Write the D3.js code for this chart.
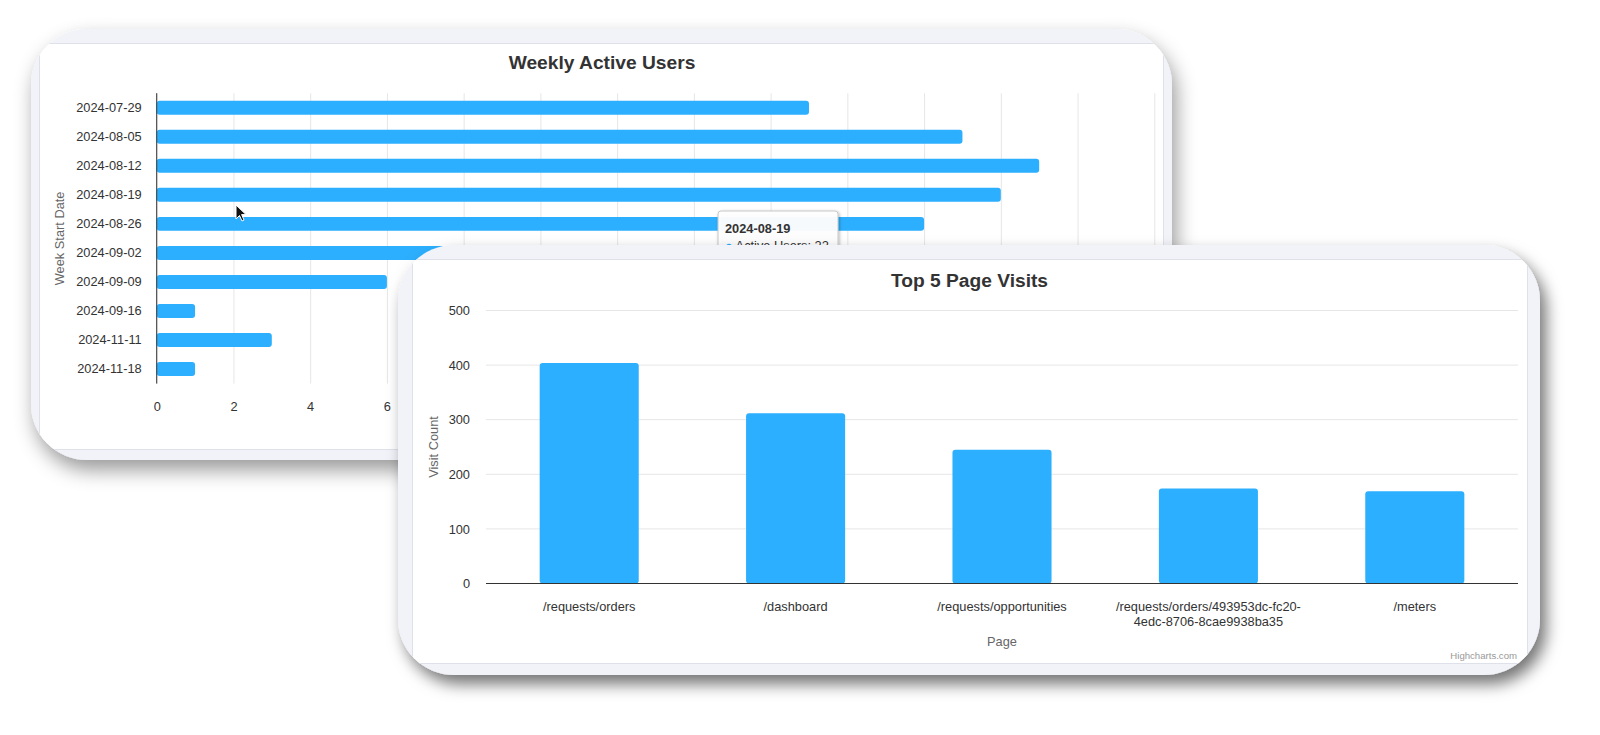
<!DOCTYPE html>
<html>
<head>
<meta charset="utf-8">
<script src="https://cdn.jsdelivr.net/npm/d3@7"></script>
<style>
    html, body { margin: 0; padding: 0; background: #fff; }
    svg { display: block; font-family: "Liberation Sans", Helvetica, Arial, sans-serif; }
</style>
</head>
<body>
<svg id="chart" width="1600" height="735"></svg>
<script>
"use strict";

// weekly active users (bar chart, top card)
const weeks = ["2024-07-29", "2024-08-05", "2024-08-12", "2024-08-19", "2024-08-26",
    "2024-09-02", "2024-09-09", "2024-09-16", "2024-11-11", "2024-11-18"];
const activeUsers = [17, 21, 23, 22, 20, 14, 6, 1, 3, 1];
const userTicks = [0, 2, 4, 6, 8, 10, 12, 14, 16, 18, 20, 22, 24, 26];

// top 5 page visits (column chart, bottom card)
const pages = ["/requests/orders", "/dashboard", "/requests/opportunities",
    "/requests/orders/493953dc-fc20-4edc-8706-8cae9938ba35", "/meters"];
const visits = [404, 312, 245, 174, 169];
const visitTicks = [0, 100, 200, 300, 400, 500];

const tooltipWeek = "2024-08-19";

const BLUE = "#2caffe",
    TEXT = "#333333",
    AXIS_TITLE = "#666666",
    GRID = "#e6e6e6";

const svg = d3.select("#chart");
const defs = svg.append("defs");

const shadow1 = defs.append("filter").attr("id", "shadow1")
    .attr("x", "-10%").attr("y", "-10%").attr("width", "120%").attr("height", "130%");
shadow1.append("feDropShadow")
    .attr("dx", 4).attr("dy", 10).attr("stdDeviation", 10)
    .attr("flood-color", "#000").attr("flood-opacity", 0.4);

const shadow2 = defs.append("filter").attr("id", "shadow2")
    .attr("x", "-10%").attr("y", "-10%").attr("width", "120%").attr("height", "130%");
shadow2.append("feDropShadow")
    .attr("dx", 6).attr("dy", 9).attr("stdDeviation", 8)
    .attr("flood-color", "#000").attr("flood-opacity", 0.55);

const tipShadow = defs.append("filter").attr("id", "tipShadow");
tipShadow.append("feDropShadow")
    .attr("dx", 1).attr("dy", 1).attr("stdDeviation", 1.5)
    .attr("flood-color", "#000").attr("flood-opacity", 0.3);

function card(id, outer, inner, filter) {
    defs.append("clipPath").attr("id", id)
        .append("rect")
        .attr("x", outer.x).attr("y", outer.y)
        .attr("width", outer.w).attr("height", outer.h)
        .attr("rx", 56);

    const g = svg.append("g");
    g.append("rect")
        .attr("x", outer.x).attr("y", outer.y)
        .attr("width", outer.w).attr("height", outer.h)
        .attr("rx", 56)
        .attr("fill", "#f2f3f9")
        .attr("filter", `url(#${filter})`);

    const body = g.append("g").attr("clip-path", `url(#${id})`);
    body.append("rect")
        .attr("x", inner.x).attr("y", inner.y)
        .attr("width", inner.w).attr("height", inner.h)
        .attr("fill", "#fff")
        .attr("stroke", "#dfe1ea");
    return body;
}

// ---------- top card: Weekly Active Users ----------
{
    const g = card("clip1",
        {x: 31, y: 29, w: 1141, h: 431},
        {x: 39.5, y: 43.5, w: 1124, h: 406}, "shadow1");

    const x = d3.scaleLinear().domain([0, 26]).range([156.7, 1154.3]);
    const y = d3.scaleBand().domain(weeks).range([93.2, 383.6]);

    g.append("g").selectAll("line")
        .data(userTicks)
        .join("line")
        .attr("x1", d => x(d) + 0.5).attr("x2", d => x(d) + 0.5)
        .attr("y1", y.range()[0]).attr("y2", y.range()[1])
        .attr("stroke", GRID);

    const bw = y.bandwidth() * 0.48;
    g.append("g").selectAll("rect")
        .data(weeks)
        .join("rect")
        .attr("x", x(0))
        .attr("y", d => y(d) + (y.bandwidth() - bw) / 2)
        .attr("width", (d, i) => x(activeUsers[i]) - x(0))
        .attr("height", bw)
        .attr("rx", 3)
        .attr("fill", BLUE);

    g.append("line")
        .attr("x1", x(0)).attr("x2", x(0))
        .attr("y1", y.range()[0]).attr("y2", y.range()[1])
        .attr("stroke", TEXT);

    const yAxis = g.append("g")
        .attr("transform", `translate(${x(0) - 15},0)`)
        .call(d3.axisLeft(y).tickSize(0).tickPadding(0));
    yAxis.select(".domain").remove();
    yAxis.selectAll("text")
        .attr("fill", TEXT).attr("font-size", 12.8)
        .attr("font-family", "Liberation Sans, Arial, sans-serif");

    const xAxis = g.append("g")
        .attr("transform", `translate(0,${y.range()[1] + 18})`)
        .call(d3.axisBottom(x).tickValues(userTicks).tickSize(0).tickPadding(0));
    xAxis.select(".domain").remove();
    xAxis.selectAll("text")
        .attr("fill", TEXT).attr("font-size", 12.8)
        .attr("font-family", "Liberation Sans, Arial, sans-serif");

    g.append("text")
        .attr("x", 602).attr("y", 69)
        .attr("text-anchor", "middle")
        .attr("font-size", 19.2).attr("font-weight", "bold")
        .attr("fill", TEXT)
        .text("Weekly Active Users");

    g.append("text")
        .attr("transform", `translate(64,${(y.range()[0] + y.range()[1]) / 2}) rotate(-90)`)
        .attr("text-anchor", "middle")
        .attr("font-size", 12.8)
        .attr("fill", AXIS_TITLE)
        .text("Week Start Date");

    // hover tooltip for the 2024-08-19 bar
    const ti = weeks.indexOf(tooltipWeek);
    const tip = g.append("g").attr("transform", "translate(718,211)");
    tip.append("rect")
        .attr("width", 120).attr("height", 60).attr("rx", 3)
        .attr("fill", "#fff").attr("fill-opacity", 0.95)
        .attr("stroke", "#c8c8c8")
        .attr("filter", "url(#tipShadow)");
    tip.append("text")
        .attr("x", 7).attr("y", 22)
        .attr("font-size", 12.8).attr("font-weight", "bold")
        .attr("fill", TEXT)
        .text(tooltipWeek);
    const line2 = tip.append("text")
        .attr("x", 7).attr("y", 39)
        .attr("font-size", 12.8)
        .attr("fill", TEXT);
    line2.append("tspan").attr("fill", BLUE).text("\u25CF ");
    line2.append("tspan").text(`Active Users: ${activeUsers[ti]}`);

    // mouse pointer
    g.append("path")
        .attr("transform", "translate(236,205)")
        .attr("d", "M0,0 L0,14 L3.5,10.5 L6,16 L8,15 L5.6,9.6 L10,9.6 Z")
        .attr("fill", "#111")
        .attr("stroke", "#fff")
        .attr("stroke-width", 1);
}

// ---------- bottom card: Top 5 Page Visits ----------
{
    const g = card("clip2",
        {x: 398, y: 245, w: 1142, h: 430},
        {x: 412.5, y: 259.5, w: 1115, h: 404}, "shadow2");

    const x = d3.scaleBand().domain(pages).range([486, 1518]);
    const y = d3.scaleLinear().domain([0, 500]).range([583.5, 310.5]);

    g.append("g").selectAll("line")
        .data(visitTicks.slice(1))
        .join("line")
        .attr("x1", x.range()[0]).attr("x2", x.range()[1])
        .attr("y1", d => y(d)).attr("y2", d => y(d))
        .attr("stroke", GRID);

    const bw = x.bandwidth() * 0.48;
    g.append("g").selectAll("rect")
        .data(pages)
        .join("rect")
        .attr("x", d => x(d) + (x.bandwidth() - bw) / 2)
        .attr("y", (d, i) => y(visits[i]))
        .attr("width", bw)
        .attr("height", (d, i) => y(0) - y(visits[i]))
        .attr("rx", 3)
        .attr("fill", BLUE);

    g.append("line")
        .attr("x1", x.range()[0]).attr("x2", x.range()[1])
        .attr("y1", y(0)).attr("y2", y(0))
        .attr("stroke", TEXT);

    const yAxis = g.append("g")
        .attr("transform", "translate(470,0)")
        .call(d3.axisLeft(y).tickValues(visitTicks).tickSize(0).tickPadding(0));
    yAxis.select(".domain").remove();
    yAxis.selectAll("text")
        .attr("fill", TEXT).attr("font-size", 12.8)
        .attr("font-family", "Liberation Sans, Arial, sans-serif");

    // category labels, wrapped at hyphens like Highcharts does
    const labels = g.append("g").attr("font-size", 12.8).attr("fill", TEXT)
        .attr("text-anchor", "middle");
    pages.forEach(p => {
        const t = labels.append("text")
            .attr("x", x(p) + x.bandwidth() / 2)
            .attr("y", 610.5);
        const parts = p.split(/(?<=-)/);
        let lines = [""];
        const probe = labels.append("text").attr("visibility", "hidden");
        parts.forEach(part => {
            const trial = lines[lines.length - 1] + part;
            probe.text(trial);
            if (probe.node().getComputedTextLength() > x.bandwidth() - 10 && lines[lines.length - 1]) {
                lines.push(part);
            } else {
                lines[lines.length - 1] = trial;
            }
        });
        probe.remove();
        lines.forEach((l, i) => {
            t.append("tspan")
                .attr("x", x(p) + x.bandwidth() / 2)
                .attr("dy", i === 0 ? 0 : 15.5)
                .text(l);
        });
    });

    g.append("text")
        .attr("x", (x.range()[0] + x.range()[1]) / 2).attr("y", 646)
        .attr("text-anchor", "middle")
        .attr("font-size", 12.8)
        .attr("fill", AXIS_TITLE)
        .text("Page");

    g.append("text")
        .attr("transform", `translate(438,${(y.range()[0] + y.range()[1]) / 2}) rotate(-90)`)
        .attr("text-anchor", "middle")
        .attr("font-size", 12.8)
        .attr("fill", AXIS_TITLE)
        .text("Visit Count");

    g.append("text")
        .attr("x", 969.5).attr("y", 287)
        .attr("text-anchor", "middle")
        .attr("font-size", 19.2).attr("font-weight", "bold")
        .attr("fill", TEXT)
        .text("Top 5 Page Visits");

    g.append("text")
        .attr("x", 1517).attr("y", 659)
        .attr("text-anchor", "end")
        .attr("font-size", 9.6)
        .attr("fill", "#999999")
        .text("Highcharts.com");
}
</script>
</body>
</html>
